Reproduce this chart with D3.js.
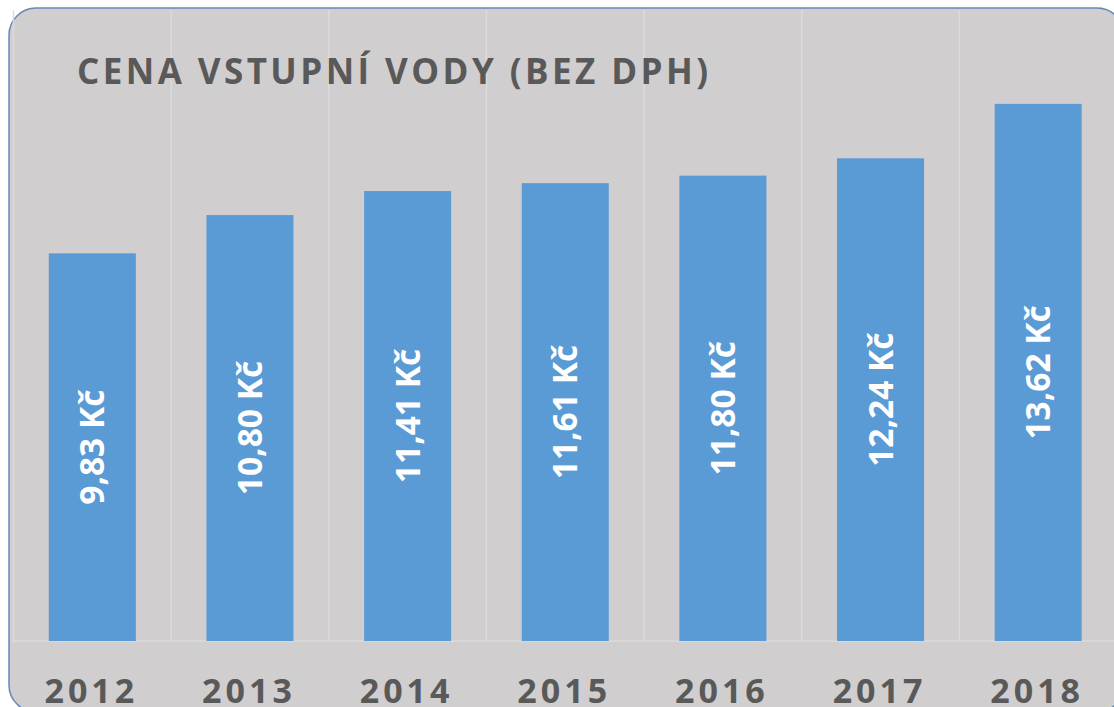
<!DOCTYPE html>
<html><head><meta charset="utf-8">
<script src="https://cdn.jsdelivr.net/npm/d3@7"></script>
<style>html,body{margin:0;padding:0;background:#fff;}svg{display:block;}</style>
</head><body>
<script>
const years = ["2012","2013","2014","2015","2016","2017","2018"];
const values = [9.83, 10.80, 11.41, 11.61, 11.80, 12.24, 13.62];
const valueLabels = ["9,83 Kč","10,80 Kč","11,41 Kč","11,61 Kč","11,80 Kč","12,24 Kč","13,62 Kč"];
const title = "CENA VSTUPNÍ VODY (BEZ DPH)";
const yDomain = [0, 16];

const W = 1114, H = 707;
const svg = d3.select("body").append("svg").attr("width", W).attr("height", H);

const font = "'Open Sans', 'DejaVu Sans', sans-serif";

// panel
svg.append("rect").attr("x", 9).attr("y", 8).attr("width", 1115).attr("height", 704)
  .attr("rx", 27).attr("ry", 27)
  .attr("fill", "#d0cecf").attr("stroke", "#6389bb").attr("stroke-width", 1.5);

const plotL = 13.5, plotR = 1117;
const x = d3.scaleBand().domain(years).range([plotL, plotR]).paddingInner(0.448).paddingOuter(0.224);
const y = d3.scaleLinear().domain(yDomain).range([641, 10]);

// vertical gridlines at category boundaries
const step = x.step();
const bounds = d3.range(years.length + 1).map(i => plotL + i * step);
svg.append("g").selectAll("line").data(bounds).join("line")
  .attr("x1", d => d).attr("x2", d => d)
  .attr("y1", y(yDomain[1])).attr("y2", y(0))
  .attr("stroke", "#dcdadb").attr("stroke-width", 1.5);

// baseline
svg.append("line").attr("x1", plotL - 1).attr("x2", plotR + 5)
  .attr("y1", y(0)).attr("y2", y(0))
  .attr("stroke", "#dcdadb").attr("stroke-width", 1.5);

// bars
svg.append("g").selectAll("rect").data(values).join("rect")
  .attr("x", (d, i) => x(years[i]))
  .attr("width", x.bandwidth())
  .attr("y", d => y(d))
  .attr("height", d => y(0) - y(d))
  .attr("fill", "#5b9bd5");

// value labels
svg.append("g").selectAll("text").data(values).join("text")
  .attr("transform", (d, i) => {
    const cx = x(years[i]) + x.bandwidth() / 2;
    const cy = (y(d) + y(0)) / 2;
    return `translate(${cx},${cy}) rotate(-90)`;
  })
  .attr("text-anchor", "middle").attr("dy", "0.36em")
  .attr("fill", "#ffffff").attr("font-family", font).attr("font-weight", 700)
  .attr("font-size", 33.5)
  .text((d, i) => valueLabels[i]);

// x axis labels
svg.append("g").selectAll("text").data(years).join("text")
  .attr("x", d => x(d) + x.bandwidth() / 2 - 1)
  .attr("y", 703)
  .attr("text-anchor", "middle")
  .attr("fill", "#595959").attr("font-family", font).attr("font-weight", 700)
  .attr("font-size", 34)
  .attr("letter-spacing", "4px")
  .text(d => d);

// title
svg.append("text").attr("x", 77).attr("y", 84)
  .attr("fill", "#595959").attr("font-family", font).attr("font-weight", 700)
  .attr("font-size", 35)
  .attr("textLength", 631).attr("lengthAdjust", "spacing")
  .text(title);
</script>
</body></html>
